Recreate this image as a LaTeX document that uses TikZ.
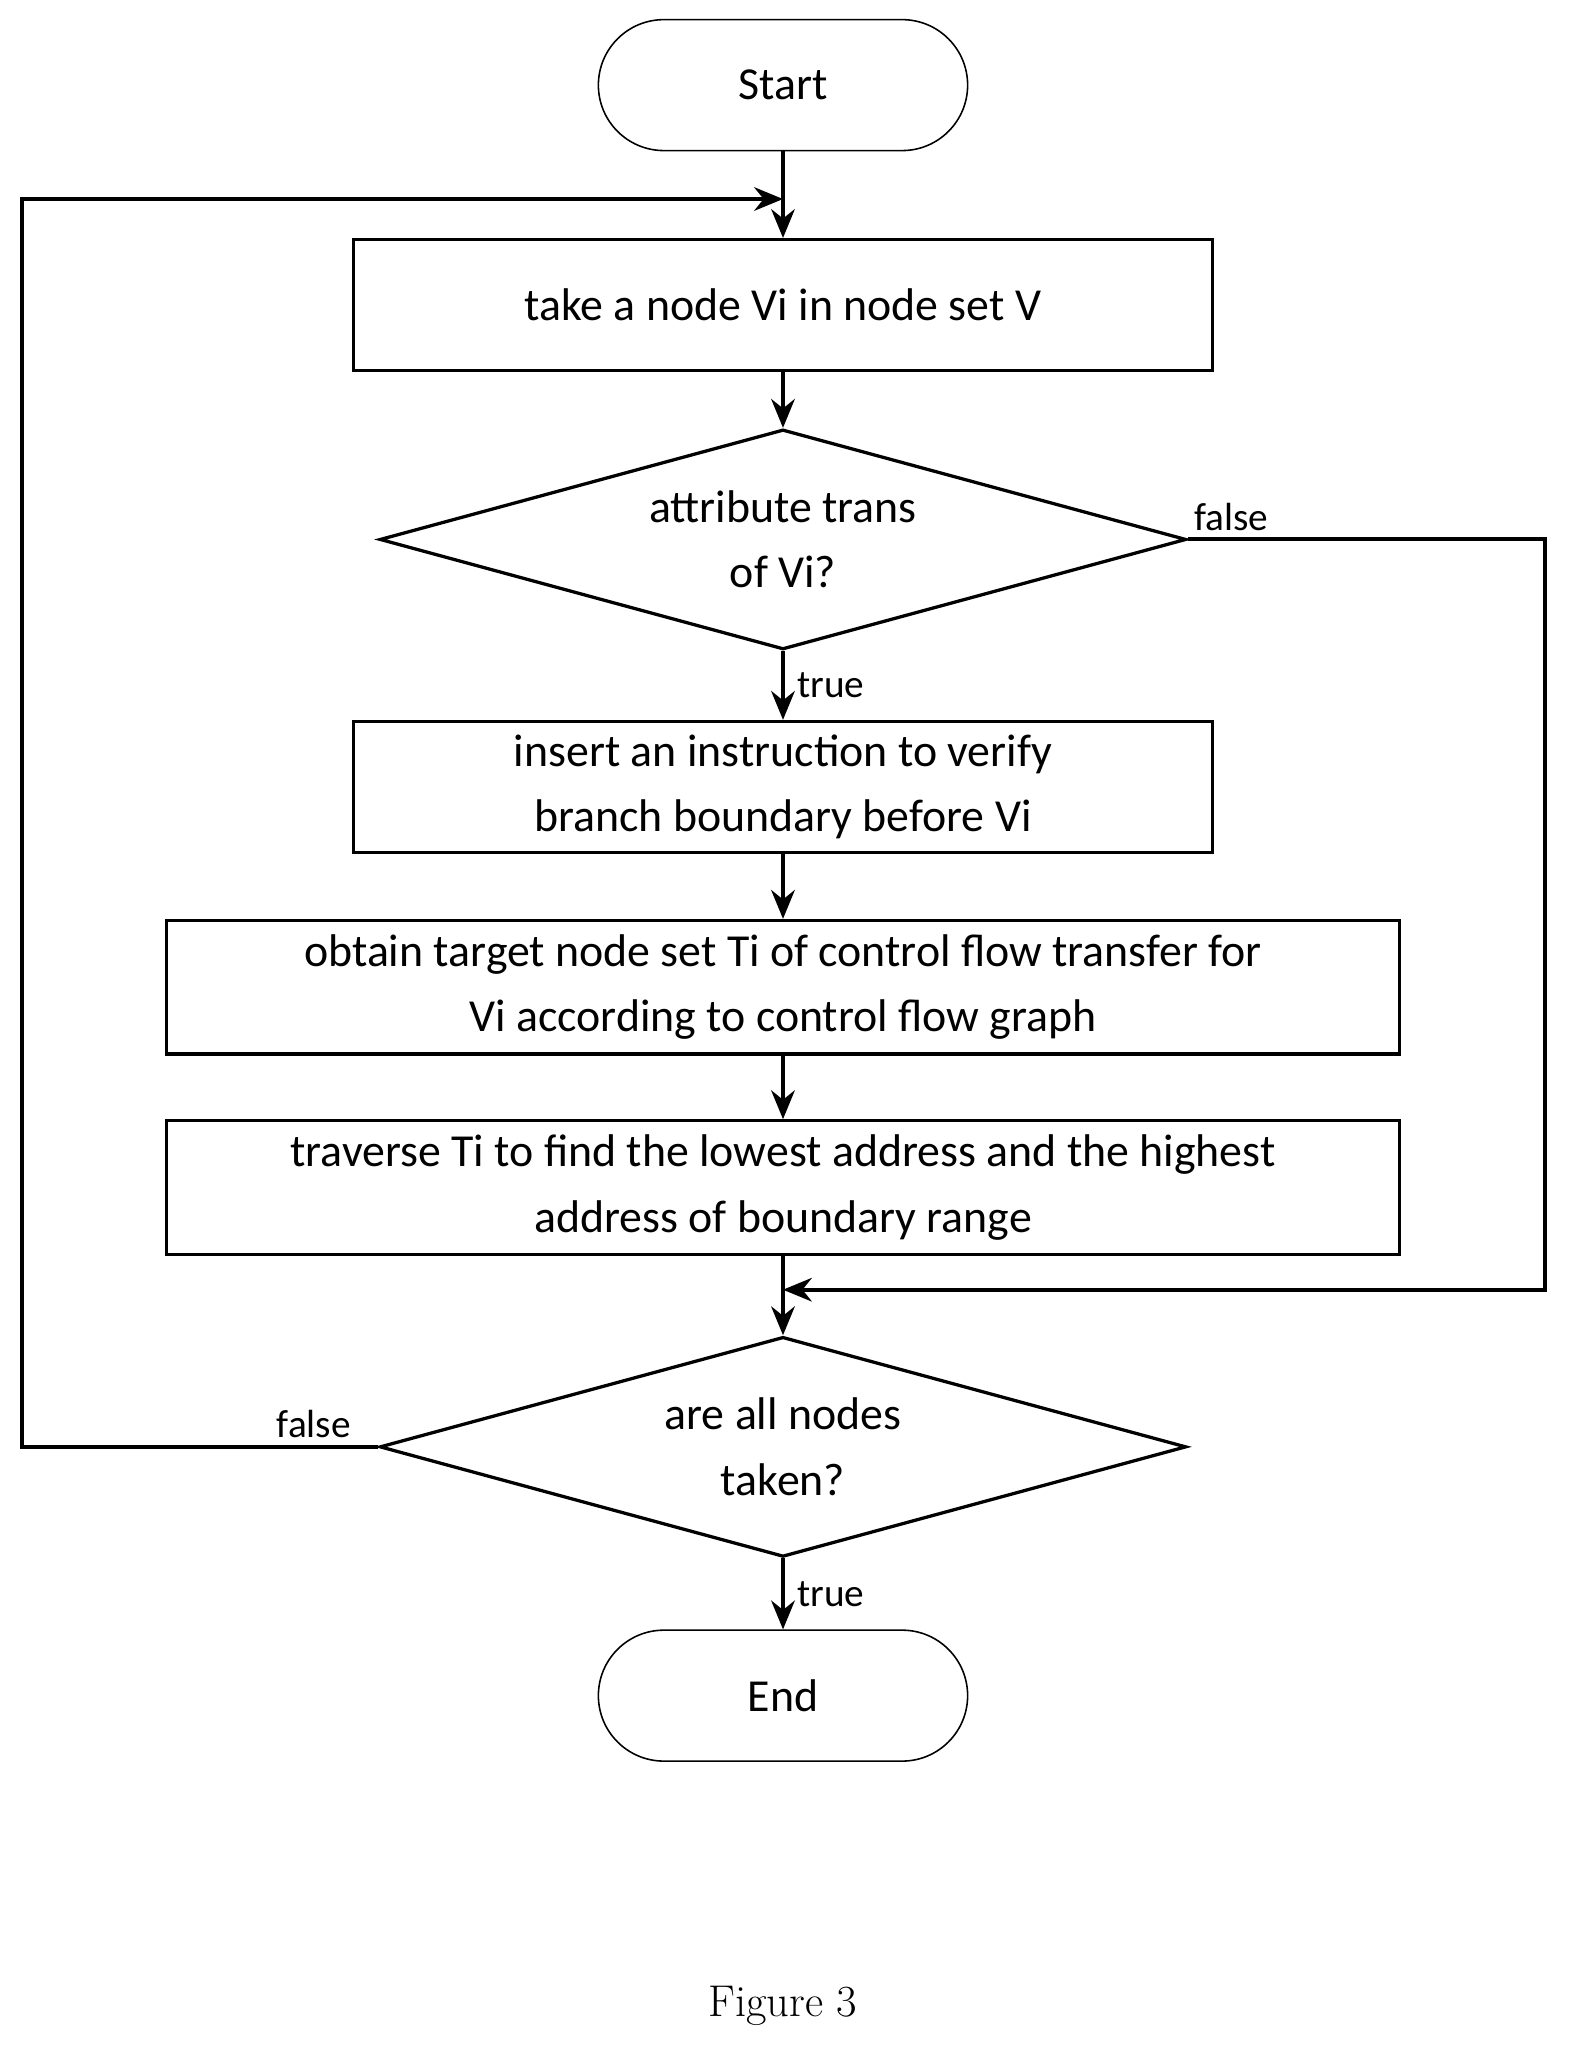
\documentclass[tikz,border=0pt]{standalone}
\usepackage{fontspec}
\setmainfont{Carlito}
\usetikzlibrary{shapes.geometric,positioning,arrows.meta}
\tikzset{
  box/.style={draw, line width=2.5pt, minimum width=656pt, minimum height=100pt, align=center, inner sep=4pt},
  widebox/.style={box, minimum width=942pt, minimum height=102pt},
  term/.style={draw, line width=1.2pt, rounded corners=50pt, minimum width=282pt, minimum height=100pt},
  test/.style={draw, line width=2.5pt, diamond, aspect=3.67, minimum width=616pt, minimum height=168pt, inner sep=0pt, align=center},
  flow/.style={line width=3pt, -{Stealth[length=22pt,width=18pt]}},
  lbl/.style={font=\fontsize{30}{36}\selectfont}
}
\begin{document}
\begin{tikzpicture}[x=1pt,y=-1pt,font=\fontsize{35}{50}\selectfont]
\useasboundingbox (0,0) rectangle (1200,1571);

\node[term] (start) at (598,65) {Start};
\node[box] (take) at (598,233) {take a node Vi in node set V};
\node[test] (trans) at (598,412) {attribute trans\\of Vi?};
\node[box] (insert) at (598,601) {insert an instruction to verify\\branch boundary before Vi};
\node[widebox] (obtain) at (598,754) {obtain target node set Ti of control flow transfer for\\Vi according to control flow graph};
\node[widebox] (trav) at (598,907) {traverse Ti to find the lowest address and the highest\\address of boundary range};
\node[test] (all) at (598,1105) {are all nodes\\taken?};
\node[term] (end) at (598,1295) {End};
\node at (598,1532) {\fontfamily{lmr}\selectfont\fontsize{34}{40}\selectfont Figure 3};

\coordinate (top) at (598,152);
\coordinate (mid) at (598,985);

% main flow
\draw[flow] (start) -- (take);
\draw[flow] (take) -- (trans);
\draw[flow] (trans) -- node[lbl, right=6pt] {true} (insert);
\draw[flow] (insert) -- (obtain);
\draw[flow] (obtain) -- (trav);
\draw[flow] (trav) -- (all);
\draw[flow] (all) -- node[lbl, right=6pt] {true} (end);

% loops
\draw[flow] (trans.east) node[lbl, above right=2pt and 0pt] {false} -| (1180,985) -- (mid);
\draw[flow] (all.west) node[lbl, above left=2pt and 16pt] {false} -| (17,152) -- (top);
\end{tikzpicture}
\end{document}
